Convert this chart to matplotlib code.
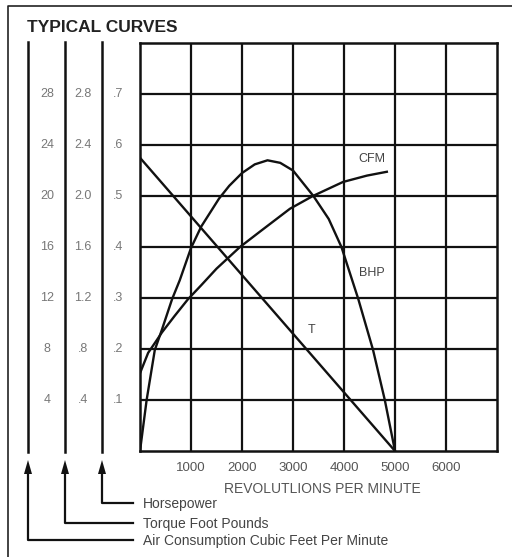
import matplotlib
matplotlib.use('Agg')
import matplotlib.pyplot as plt
from matplotlib.transforms import blended_transform_factory

plt.rcParams['font.family'] = ['Liberation Sans', 'DejaVu Sans']

# 读图得到的数据
rpm_ticks = [1000, 2000, 3000, 4000, 5000, 6000]
cfm_labels = ['4', '8', '12', '16', '20', '24', '28']
torque_labels = ['.4', '.8', '1.2', '1.6', '2.0', '2.4', '2.8']
hp_labels = ['.1', '.2', '.3', '.4', '.5', '.6', '.7']
scale_values = [4, 8, 12, 16, 20, 24, 28]

# 马力 (hp)
bhp_rpm = [0, 130, 290, 430, 630, 780, 1000, 1200, 1550, 1750, 2000, 2250,
           2500, 2750, 3000, 3400, 3700, 3950, 4280, 4570, 4800, 5000]
bhp_hp = [0, .100, .198, .238, .298, .335, .398, .440, .495, .520, .545, .562,
          .570, .565, .550, .500, .455, .400, .298, .198, .100, 0]

# 扭矩 (ft-lb)
torque_rpm = [0, 5000]
torque_ftlb = [2.3, 0]

# 耗气量 (cfm)
cfm_rpm = [0, 160, 330, 430, 680, 940, 1200, 1500, 1960, 2350, 2940, 3390,
           3980, 4450, 4840]
cfm_val = [6.1, 7.7, 8.7, 9.3, 10.6, 11.9, 13.0, 14.3, 16.0, 17.2, 19.0, 20.0,
           21.1, 21.6, 21.9]

W, H = 512, 557
fig = plt.figure(figsize=(W / 100, H / 100), dpi=100)
fig.patch.set_facecolor('white')

# 网格主图 (y 轴按 CFM 刻度 0-32)
ax = fig.add_axes([140 / W, 1 - 451 / H, 357 / W, 408 / H])
ax.set_xlim(0, 7000)
ax.set_ylim(0, 32)
for v in range(1000, 7000, 1000):
    ax.axvline(v, color='#111', lw=1.6)
for v in range(4, 32, 4):
    ax.axhline(v, color='#111', lw=1.6)
for s in ax.spines.values():
    s.set_linewidth(1.8)
    s.set_color('#111')
ax.set_xticks([])
ax.set_yticks([])

ax.plot(bhp_rpm, [h * 40 for h in bhp_hp], color='#111', lw=1.7)
ax.plot(torque_rpm, [t * 10 for t in torque_ftlb], color='#111', lw=1.7)
ax.plot(cfm_rpm, cfm_val, color='#111', lw=1.7)

ax.text(4550, 22.9, 'CFM', fontsize=9, color='#444', ha='center', va='center')
ax.text(4550, 14.0, 'BHP', fontsize=9, color='#444', ha='center', va='center')
ax.text(3370, 9.5, 'T', fontsize=9, color='#444', ha='center', va='center')

# 覆盖层 (像素坐标)
ov = fig.add_axes([0, 0, 1, 1], zorder=-1)
ov.set_xlim(0, W)
ov.set_ylim(H, 0)
ov.axis('off')

# 边框
ov.plot([8, 8, W], [H, 6, 6], color='#222', lw=1.2)

ov.text(27, 27, 'TYPICAL CURVES', fontsize=12.5, fontweight='bold',
        color='#222', ha='left', va='center')

# 左侧三条刻度线及箭头
scale_x = [28, 65, 102]
ends = [540, 523, 503]
for x, yb in zip(scale_x, ends):
    ov.plot([x, x], [42, 452], color='#111', lw=1.8)
    ov.fill([x, x - 4, x + 4], [460, 474, 474], color='#111', lw=0)
    ov.plot([x, x, 133], [473, yb, yb], color='#111', lw=1.6)

tr = blended_transform_factory(ov.transData, ax.transData)
for v, a, b, c in zip(scale_values, cfm_labels, torque_labels, hp_labels):
    ax.text(47, v, a, transform=tr, fontsize=9, color='#777',
            ha='center', va='center')
    ax.text(83, v, b, transform=tr, fontsize=9, color='#777',
            ha='center', va='center')
    ax.text(118, v, c, transform=tr, fontsize=9, color='#777',
            ha='center', va='center')

names = ['Horsepower', 'Torque Foot Pounds',
         'Air Consumption Cubic Feet Per Minute']
for yb, n in zip(sorted(ends), names):
    ov.text(143, yb + 1, n, fontsize=10, color='#444', ha='left', va='center')

# x 轴刻度
trx = blended_transform_factory(ax.transData, ov.transData)
for v in rpm_ticks:
    ax.text(v, 468, str(v), transform=trx, fontsize=9.5, color='#555',
            ha='center', va='center')
ov.text(322, 489, 'REVOLUTLIONS PER MINUTE', fontsize=10, color='#555',
        ha='center', va='center')

fig.savefig('out.png', dpi=100)
